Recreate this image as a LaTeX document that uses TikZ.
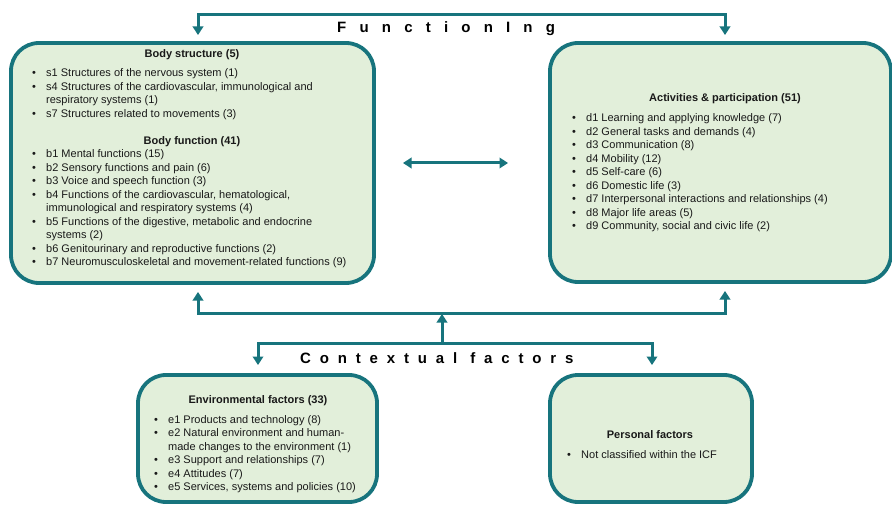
\documentclass[tikz,border=0pt]{standalone}
\usepackage{fontspec}
\setmainfont{Liberation Sans}
\usetikzlibrary{arrows.meta}

\definecolor{tealline}{RGB}{23,116,125}
\definecolor{panelfill}{RGB}{226,239,218}
\definecolor{ink}{RGB}{25,25,25}

\newcommand{\bul}{\textbullet}

\tikzset{
  panel/.style={draw=tealline, fill=panelfill, line width=3.8pt,
    rounded corners=28pt, rectangle, outer sep=0pt, inner sep=0pt},
  head/.style={text=ink, font=\fontsize{11}{13.5}\selectfont\bfseries,
    inner sep=0pt, anchor=base},
  items/.style={text=ink, font=\fontsize{11}{13.5}\selectfont,
    inner sep=0pt, anchor=base west},
  banner/.style={text=black, font=\fontsize{15}{18}\selectfont\bfseries,
    inner sep=0pt, anchor=base west},
  oneway/.style={draw=tealline, line width=3pt,
    -{Triangle[width=10.5pt,length=8.5pt]}},
  twoway/.style={draw=tealline, line width=3pt,
    {Triangle[width=10.5pt,length=8.5pt]}-{Triangle[width=10.5pt,length=8.5pt]}},
}

\begin{document}
\begin{tikzpicture}[x=1pt, y=-1pt]
\useasboundingbox (0,0) rectangle (892,505);

% ---- panels ----
\node[panel, minimum width=363pt, minimum height=240pt] (body) at (192.5,163) {};
\node[panel, minimum width=341pt, minimum height=239pt] (act)  at (720.5,162.5) {};
\node[panel, minimum width=239pt, minimum height=127pt] (env)  at (257.5,438.5) {};
\node[panel, minimum width=202pt, minimum height=127pt] (pers) at (651,438.5) {};

% ---- body structure and function ----
\node[head] (bsT) at (192,58) {Body structure (5)};
\node[items] (bsL) at (32,77) {\begin{tabular}[t]{@{}p{14pt}@{}l@{}}
\bul & s1 Structures of the nervous system (1)\\
\bul & s4 Structures of the cardiovascular, immunological and\\
     & respiratory systems (1)\\
\bul & s7 Structures related to movements (3)
\end{tabular}};
\node[head] (bfT) at (192,145) {Body function (41)};
\node[items] (bfL) at (32,158) {\begin{tabular}[t]{@{}p{14pt}@{}l@{}}
\bul & b1 Mental functions (15)\\
\bul & b2 Sensory functions and pain (6)\\
\bul & b3 Voice and speech function (3)\\
\bul & b4 Functions of the cardiovascular, hematological,\\
     & immunological and respiratory systems (4)\\
\bul & b5 Functions of the digestive, metabolic and endocrine\\
     & systems (2)\\
\bul & b6 Genitourinary and reproductive functions (2)\\
\bul & b7 Neuromusculoskeletal and movement-related functions (9)
\end{tabular}};

% ---- activities and participation ----
\node[head] (apT) at (725,102) {Activities \& participation (51)};
\node[items] (apL) at (572,122) {\begin{tabular}[t]{@{}p{14pt}@{}l@{}}
\bul & d1 Learning and applying knowledge (7)\\
\bul & d2 General tasks and demands (4)\\
\bul & d3 Communication (8)\\
\bul & d4 Mobility (12)\\
\bul & d5 Self-care (6)\\
\bul & d6 Domestic life (3)\\
\bul & d7 Interpersonal interactions and relationships (4)\\
\bul & d8 Major life areas (5)\\
\bul & d9 Community, social and civic life (2)
\end{tabular}};

% ---- environmental factors ----
\node[head] (efT) at (258,403) {Environmental factors (33)};
\node[items] (efL) at (154,423) {\begin{tabular}[t]{@{}p{14pt}@{}l@{}}
\bul & e1 Products and technology (8)\\
\bul & e2 Natural environment and human-\\
     & made changes to the environment (1)\\
\bul & e3 Support and relationships (7)\\
\bul & e4 Attitudes (7)\\
\bul & e5 Services, systems and policies (10)
\end{tabular}};

% ---- personal factors ----
\node[head] (pfT) at (650,438) {Personal factors};
\node[items] (pfL) at (567,458) {\begin{tabular}[t]{@{}p{14pt}@{}l@{}}
\bul & Not classified within the ICF
\end{tabular}};

% ---- banners ----
\node[banner] (fnc) at (337,33) {\addfontfeature{LetterSpace=88}FunctionIng};
\node[banner] (ctx) at (300,363) {\addfontfeature{LetterSpace=59}Contextual factors};

% ---- connector guides ----
\coordinate (xl) at (198,0);
\coordinate (xr) at (725,0);
\coordinate (xc) at (442,0);
\coordinate (xel) at (258,0);
\coordinate (xpr) at (652,0);
\coordinate (ytop) at (0,15);
\coordinate (ymid) at (0,313);
\coordinate (ylow) at (0,343);

% ---- connectors ----
\draw[twoway, shorten <=8pt, shorten >=8pt]
  (body.north -| xl) -- (xl |- ytop) -- (xr |- ytop) -- (act.north -| xr);
\draw[twoway, shorten <=29pt, shorten >=42pt]
  (body.east) -- (body.east -| act.west);
\draw[twoway, shorten <=9pt, shorten >=9pt]
  (body.south -| xl) -- (xl |- ymid) -- (xr |- ymid) -- (act.south -| xr);
\draw[oneway, shorten >=1pt] (xc |- ylow) -- (xc |- ymid);
\draw[twoway, shorten <=10pt, shorten >=10pt]
  (env.north -| xel) -- (xel |- ylow) -- (xpr |- ylow) -- (pers.north -| xpr);
\end{tikzpicture}
\end{document}
